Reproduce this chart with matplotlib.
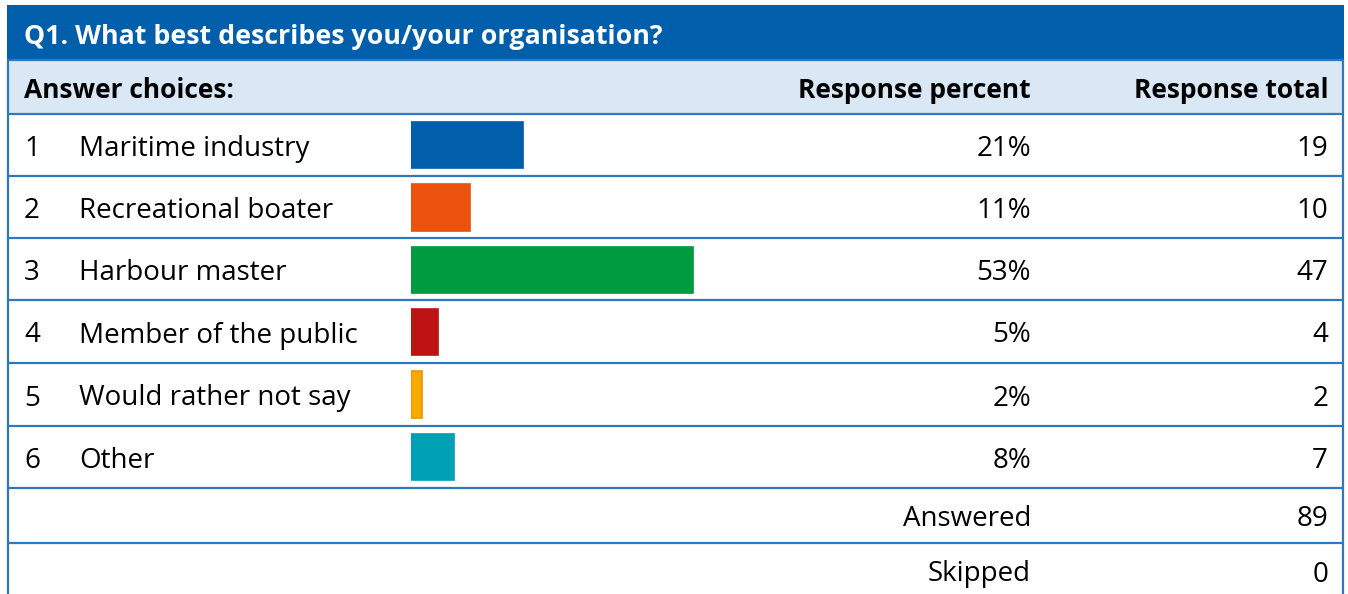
import matplotlib
matplotlib.use("Agg")
import matplotlib.pyplot as plt
from matplotlib.patches import Rectangle

# ---- data ----
title = "Q1. What best describes you/your organisation?"
headers = ["Answer choices:", "Response percent", "Response total"]
numbers = ["1", "2", "3", "4", "5", "6"]
choices = ["Maritime industry", "Recreational boater", "Harbour master",
           "Member of the public", "Would rather not say", "Other"]
percent = [21, 11, 53, 5, 2, 8]
totals = [19, 10, 47, 4, 2, 7]
summary_labels = ["Answered", "Skipped"]
summary_values = [89, 0]

bar_colors = ["#005EAA", "#EA520D", "#009B3E", "#BD1212", "#F9AA00", "#00A0B4"]
bar_edges = ["#005EAA", "#EA520D", "#009B3E", "#BD1212", "#F39200", "#00A0B4"]

BLUE = "#005EAA"
LINE = "#2F78BE"
HEAD_BG = "#DAE8F6"
FONT = "Open Sans"
FS_BODY = 20
FS_HEAD = 19
DY = 4  # text sits a bit below the row centre

W, H = 1348, 594
fig = plt.figure(figsize=(W / 100, H / 100), dpi=100)
ax = fig.add_axes([0, 0, 1, 1])
ax.set_xlim(0, W)
ax.set_ylim(H, 0)
ax.axis("off")

left, right = 8, 1343
row_edges = [5, 60, 114, 176, 238, 300, 363, 426, 488, 543, 600]

# title bar
ax.add_patch(Rectangle((left - 1, row_edges[0]), right - left + 2,
                       row_edges[1] - row_edges[0], color=BLUE, lw=0))
ax.text(24, (row_edges[0] + row_edges[1]) / 2 + DY + 1, title, color="white",
        fontsize=19.3, fontweight="bold", family=FONT, va="center", ha="left")

# header row
ax.add_patch(Rectangle((left, row_edges[1]), right - left,
                       row_edges[2] - row_edges[1], color=HEAD_BG, lw=0))
hy = (row_edges[1] + row_edges[2]) / 2 + DY
ax.text(24, hy, headers[0], fontsize=FS_HEAD, fontweight="bold", family=FONT,
        va="center", ha="left", color="black")
ax.text(1031, hy, headers[1], fontsize=FS_HEAD, fontweight="bold", family=FONT,
        va="center", ha="right", color="black")
ax.text(1328, hy, headers[2], fontsize=FS_HEAD, fontweight="bold", family=FONT,
        va="center", ha="right", color="black")

# grid lines
for y in row_edges[1:-1]:
    ax.plot([left, right], [y, y], color=LINE, lw=1.6, solid_capstyle="butt")
ax.plot([left, left], [row_edges[1], H], color=LINE, lw=1.6)
ax.plot([right, right], [row_edges[1], H], color=LINE, lw=1.6)

# data rows text
for i in range(len(choices)):
    cy = (row_edges[i + 2] + row_edges[i + 3]) / 2 + DY
    ax.text(24, cy, numbers[i], fontsize=FS_BODY, family=FONT, va="center", ha="left")
    ax.text(79, cy, choices[i], fontsize=FS_BODY, family=FONT, va="center", ha="left")
    ax.text(1031, cy, f"{percent[i]}%", fontsize=FS_BODY, family=FONT,
            va="center", ha="right")
    ax.text(1328, cy, str(totals[i]), fontsize=FS_BODY, family=FONT,
            va="center", ha="right")

for j in range(len(summary_labels)):
    cy = (row_edges[8 + j] + min(row_edges[9 + j], 598)) / 2 + DY
    ax.text(1031, cy, summary_labels[j], fontsize=FS_BODY, family=FONT,
            va="center", ha="right")
    ax.text(1328, cy, str(summary_values[j]), fontsize=FS_BODY, family=FONT,
            va="center", ha="right")

# bars in their own axes (x = percent)
bx0, bw = 411, 532  # pixels; 100% -> bw
by0, by1 = row_edges[2], row_edges[8]
bax = fig.add_axes([bx0 / W, 1 - by1 / H, bw / W, (by1 - by0) / H])
bax.set_xlim(0, 100)
bax.set_ylim(len(choices) - 0.5, -0.5)
bax.axis("off")
bax.patch.set_alpha(0)
bax.barh(range(len(choices)), percent, height=0.74, color=bar_colors,
         edgecolor=bar_edges, linewidth=1.2)

fig.savefig("out.png", dpi=100)
